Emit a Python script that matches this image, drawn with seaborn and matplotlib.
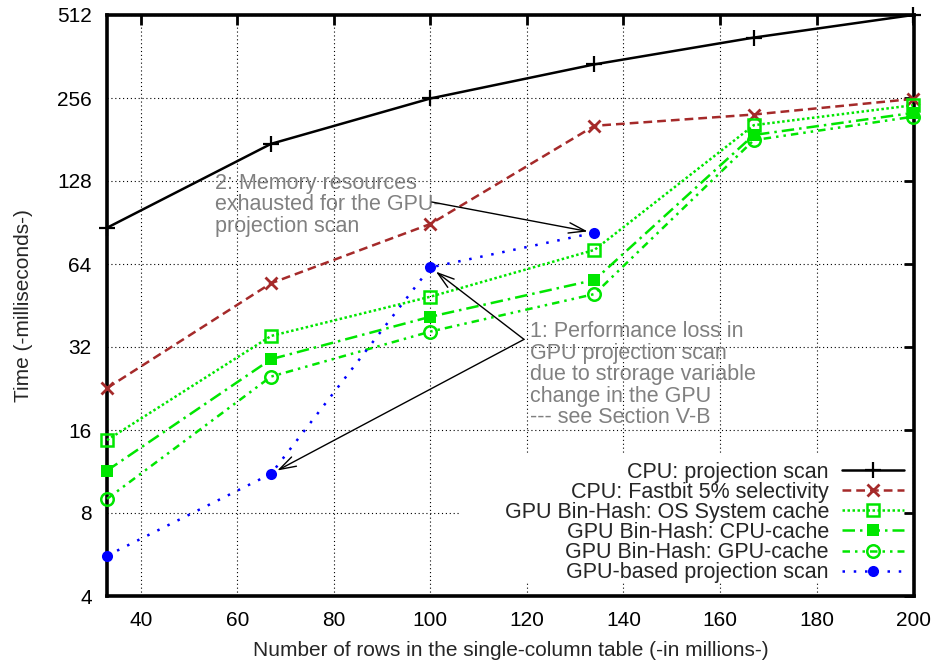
import matplotlib
matplotlib.use("Agg")
import matplotlib.pyplot as plt
from matplotlib.patches import Rectangle
from matplotlib.ticker import FixedLocator, FixedFormatter, NullLocator
import seaborn as sns
import pandas as pd

# Data (rows in millions, time in ms)
rows = [33, 67, 100, 134, 167, 200]
cpu_scan = [86.6, 174.6, 255, 339, 424, 512]
cpu_fastbit = [22.7, 54.5, 89.4, 203, 223, 254]
gpu_os_cache = [14.7, 35.1, 48.7, 72, 204, 241]
gpu_cpu_cache = [11.4, 28.9, 41.2, 56, 188, 226]
gpu_gpu_cache = [9.0, 25.0, 36.4, 49.8, 180, 219]
gpu_scan_rows = [33, 67, 100, 134]
gpu_scan = [5.6, 11.1, 62.2, 83.1]

y_ticks = [4, 8, 16, 32, 64, 128, 256, 512]
x_ticks = [40, 60, 80, 100, 120, 140, 160, 180, 200]

sns.set_style("white")
plt.rcParams["font.family"] = ["Liberation Sans", "DejaVu Sans"]
plt.rcParams["font.size"] = 15

fig = plt.figure(figsize=(9.41, 6.66), dpi=100)
ax = fig.add_axes([107 / 941, 1 - 596 / 666, 807 / 941, 581 / 666])

green = "#00e600"
brown = "#a52a2a"
series = [
    ("CPU: projection scan", rows, cpu_scan,
     dict(color="black", linestyle="-", marker="+", markersize=11,
          markeredgewidth=1.6, markeredgecolor="black")),
    ("CPU: Fastbit 5% selectivity", rows, cpu_fastbit,
     dict(color=brown, linestyle=(0, (3.5, 2)), marker="x", markersize=8,
          markeredgewidth=2, markeredgecolor=brown)),
    ("GPU Bin-Hash: OS System cache", rows, gpu_os_cache,
     dict(color=green, linestyle=(0, (1, 1)), marker="s", markersize=9, fillstyle="none",
          markeredgewidth=1.8, markeredgecolor=green)),
    ("GPU Bin-Hash: CPU-cache", rows, gpu_cpu_cache,
     dict(color=green, linestyle=(0, (5, 2, 1, 2)), marker="s", markersize=9,
          markeredgewidth=0, markerfacecolor=green)),
    ("GPU Bin-Hash: GPU-cache", rows, gpu_gpu_cache,
     dict(color=green, linestyle=(0, (3, 2, 1, 2, 1, 2)), marker="o", markersize=9, fillstyle="none",
          markeredgewidth=1.8, markeredgecolor=green)),
    ("GPU-based projection scan", gpu_scan_rows, gpu_scan,
     dict(color="blue", linestyle=(0, (1, 3.5)), marker="o", markersize=8,
          markeredgewidth=0, markerfacecolor="blue")),
]

for label, xs, ys, style in series:
    df = pd.DataFrame({"rows": xs, "time": ys})
    sns.lineplot(data=df, x="rows", y="time", ax=ax, label=label, linewidth=1.8,
                 clip_on=False, zorder=3, legend=False, **style)

ax.set_yscale("log", base=2)
ax.set_ylim(4, 512)
ax.set_xlim(33, 200.2)
ax.yaxis.set_major_locator(FixedLocator(y_ticks))
ax.yaxis.set_major_formatter(FixedFormatter([str(v) for v in y_ticks]))
ax.yaxis.set_minor_locator(NullLocator())
ax.set_xticks(x_ticks)

ax.set_axisbelow(True)
ax.grid(True, color="black", linestyle=(0, (1, 2.5)), linewidth=0.8)
for s in ax.spines.values():
    s.set_linewidth(2.6)
    s.set_color("black")
ax.tick_params(direction="in", length=7, width=2, top=True, right=True,
               labelsize=15, colors="black")
ax.tick_params(axis="y", pad=11)
ax.tick_params(axis="x", pad=11)

ax.set_xlabel("Number of rows in the single-column table (-in millions-)", fontsize=15, labelpad=8)
ax.set_ylabel("Time (-milliseconds-)", fontsize=15, labelpad=17)

# white box behind the key (hides the grid there, like gnuplot)
ax.add_patch(Rectangle((0.437, 0.024), 0.551, 0.219, transform=ax.transAxes,
                       facecolor="white", edgecolor="none", zorder=1))

handles, labels = ax.get_legend_handles_labels()
leg = ax.legend(handles, labels, loc="lower right", bbox_to_anchor=(0.988, 0.022),
                frameon=False, markerfirst=False, fontsize=15.5, handlelength=2.9,
                handletextpad=0.6, labelspacing=-0.04, borderpad=0, borderaxespad=0)

gray = "#808080"
ax.text(55.4, 104.8, "2: Memory resources\nexhausted for the GPU-\nprojection scan",
        color=gray, fontsize=15.5, ha="left", va="center", linespacing=1.04)
ax.text(120.6, 25.4, "1: Performance loss in\nGPU projection scan\ndue to strorage variable\n"
        "change in the GPU\n--- see Section V-B",
        color=gray, fontsize=15.5, ha="left", va="center", linespacing=1.04)

arrow = dict(arrowstyle="->,head_length=0.8,head_width=0.25", color="black", lw=1,
             shrinkA=0, shrinkB=5)
ax.annotate("", xy=(gpu_scan_rows[3], gpu_scan[3]), xytext=(100.3, 107.4), arrowprops=arrow)
ax.annotate("", xy=(gpu_scan_rows[2], gpu_scan[2]), xytext=(119.4, 34.1), arrowprops=arrow)
ax.annotate("", xy=(gpu_scan_rows[1], gpu_scan[1]), xytext=(119.4, 34.1), arrowprops=arrow)

fig.savefig("out.png", dpi=100)
